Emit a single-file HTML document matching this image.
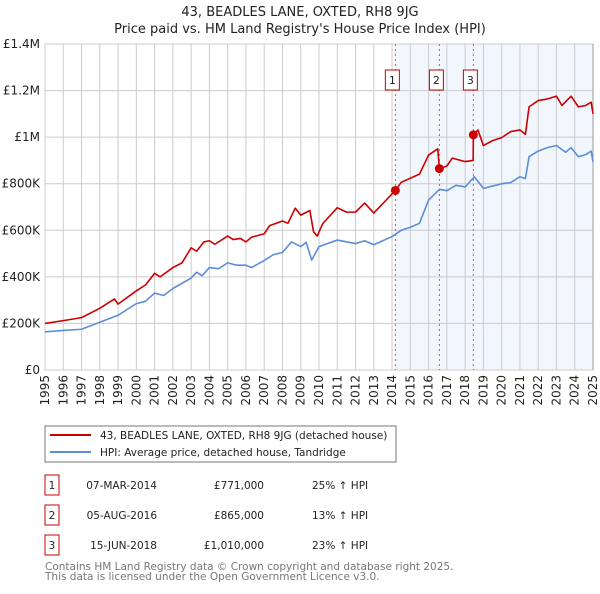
<!DOCTYPE html>
<html><head><meta charset="utf-8"><style>
body{margin:0;background:#fff;width:600px;height:590px;overflow:hidden;font-family:"DejaVu Sans","Liberation Sans",sans-serif}
svg text{font-family:"DejaVu Sans","Liberation Sans",sans-serif}
</style></head><body>
<svg id="chart" width="600" height="590" xmlns="http://www.w3.org/2000/svg">
<text x="300" y="16" text-anchor="middle" font-size="13" fill="#222">43, BEADLES LANE, OXTED, RH8 9JG</text>
<text x="300" y="33" text-anchor="middle" font-size="13" fill="#222">Price paid vs. HM Land Registry's House Price Index (HPI)</text>
<g id="plot"></g>
<rect x="45" y="426" width="351" height="36" fill="#fff" stroke="#777"/>
<line x1="50" y1="435" x2="91" y2="435" stroke="#cc0000" stroke-width="2"/>
<text x="100" y="439" font-size="10.5" fill="#222">43, BEADLES LANE, OXTED, RH8 9JG (detached house)</text>
<line x1="50" y1="452" x2="91" y2="452" stroke="#5b8ed6" stroke-width="2"/>
<text x="100" y="456" font-size="10.5" fill="#222">HPI: Average price, detached house, Tandridge</text>
<g id="table" font-size="10.5" fill="#222"></g>
<text x="45" y="570" font-size="10.5" fill="#777">Contains HM Land Registry data © Crown copyright and database right 2025.</text>
<text x="45" y="580" font-size="10.5" fill="#777">This data is licensed under the Open Government Licence v3.0.</text>
</svg>
<script>
const yTicks=[0,200000,400000,600000,800000,1000000,1200000,1400000];
const yTickLabels=["£0","£200K","£400K","£600K","£800K","£1M","£1.2M","£1.4M"];
const xYears=[1995,1996,1997,1998,1999,2000,2001,2002,2003,2004,2005,2006,2007,2008,2009,2010,2011,2012,2013,2014,2015,2016,2017,2018,2019,2020,2021,2022,2023,2024,2025];
const hpiT=[1995,1996,1997,1998,1999,2000,2000.5,2001,2001.5,2002,2003,2003.3,2003.6,2004,2004.5,2005,2005.5,2006,2006.3,2007,2007.5,2008,2008.5,2009,2009.3,2009.6,2010,2011,2012,2012.5,2013,2014,2014.5,2015,2015.5,2016,2016.6,2017,2017.5,2018,2018.5,2019,2019.5,2020,2020.5,2021,2021.3,2021.5,2022,2022.5,2023,2023.5,2023.8,2024.2,2024.6,2024.9,2025];
const hpiV=[164000,170000,175000,205000,235000,285000,295000,330000,320000,350000,395000,420000,405000,440000,435000,460000,450000,450000,440000,470000,495000,505000,550000,530000,548000,472000,530000,558000,543000,555000,538000,573000,600000,613000,630000,730000,776000,770000,793000,786000,830000,780000,790000,800000,805000,830000,822000,916000,940000,955000,964000,935000,955000,916000,925000,940000,894000];
const ppT=[1995,1996,1997,1998,1998.8,1999,2000,2000.5,2001,2001.3,2002,2002.5,2003,2003.3,2003.7,2004,2004.3,2005,2005.3,2005.7,2006,2006.3,2007,2007.3,2008,2008.3,2008.7,2009,2009.5,2009.7,2009.9,2010.2,2011,2011.5,2012,2012.5,2013,2014.18,2014.5,2015.5,2016,2016.5,2016.59,2017,2017.3,2018,2018.44,2018.45,2018.7,2019,2019.5,2020,2020.5,2021,2021.3,2021.5,2022,2022.5,2023,2023.3,2023.8,2024.2,2024.6,2024.9,2025];
const ppV=[200000,212000,225000,265000,305000,283000,340000,365000,415000,400000,440000,460000,525000,510000,550000,555000,540000,575000,560000,565000,550000,570000,585000,620000,640000,630000,695000,665000,685000,594000,575000,628000,697000,678000,678000,717000,674000,771000,806000,841000,923000,950000,865000,876000,910000,895000,900000,1010000,1031000,964000,985000,998000,1024000,1031000,1012000,1130000,1157000,1164000,1176000,1136000,1176000,1130000,1136000,1150000,1100000];
const saleT=[2014.18,2016.59,2018.45];
const saleV=[771000,865000,1010000];
const saleLabels=["1","2","3"];
const saleDates=["07-MAR-2014","05-AUG-2016","15-JUN-2018"];
const salePrices=["£771,000","£865,000","£1,010,000"];
const saleHpi=["25% ↑ HPI","13% ↑ HPI","23% ↑ HPI"];

const NS="http://www.w3.org/2000/svg";
const X0=45,X1=593,Y0=370,Y1=44;
const xs=t=>X0+(t-1995)/30*(X1-X0);
const ys=v=>Y0-v/1400000*(Y0-Y1);
const plot=document.getElementById('plot');
function mk(tag,attrs,parent){const e=document.createElementNS(NS,tag);for(const k in attrs)e.setAttribute(k,attrs[k]);(parent||plot).appendChild(e);return e;}
let sh=mk('rect',{x:xs(saleT[0]),y:Y1,width:X1-xs(saleT[0]),height:Y0-Y1,fill:'#eef3fc',opacity:0.75});


xYears.forEach(y=>{const l=mk('line',{x1:xs(y),x2:xs(y),y1:Y1,y2:Y0,stroke:'#ccc','stroke-width':1});


const t=mk('text',{transform:`translate(${xs(y)+4},375) rotate(-90)`,'text-anchor':'end','font-size':12,fill:'#222'});t.textContent=y;

});
yTicks.forEach((v,i)=>{const l=mk('line',{x1:X0,x2:X1,y1:ys(v),y2:ys(v),stroke:'#ccc','stroke-width':1});


const t=mk('text',{x:40,y:ys(v)+4,'text-anchor':'end','font-size':12,fill:'#222'});t.textContent=yTickLabels[i];

});
let ax=mk('line',{x1:X1,x2:X1,y1:Y1,y2:Y0,stroke:'#999','stroke-width':1});


saleT.forEach((t,i)=>{const x=xs(t);
const l=mk('line',{x1:x,x2:x,y1:Y1,y2:Y0,stroke:'#e05050','stroke-dasharray':'2,3','stroke-width':1});


const r=mk('rect',{x:x-10,y:70,width:14,height:20,fill:'#fff',stroke:'#cc0000'});


const tx=mk('text',{x:x-3,y:84,'text-anchor':'middle','font-size':11,fill:'#222'});tx.textContent=saleLabels[i];

});
function line(T,V,c,name){const p=mk('polyline',{points:T.map((t,i)=>xs(t)+','+ys(V[i])).join(' '),fill:'none',stroke:c,'stroke-width':1.6,'stroke-linejoin':'round'});

}
line(hpiT,hpiV,'#5b8ed6','hpi-line');
line(ppT,ppV,'#cc0000','property-price-line');
saleT.forEach((t,i)=>{const c=mk('circle',{cx:xs(t),cy:ys(saleV[i]),r:4.5,fill:'#cc0000'});

});
const tb=document.getElementById('table');
saleT.forEach((t,i)=>{const y0=475+i*30;
const r=mk('rect',{x:45,y:y0,width:14,height:20,fill:'#fff',stroke:'#cc0000'},tb);


const cells=[[52,'middle',saleLabels[i],'table-row-number'],[157,'end',saleDates[i],'table-sale-date'],[264,'end',salePrices[i],'table-sale-price'],[312,'start',saleHpi[i],'table-hpi-change']];
cells.forEach(c=>{const e=mk('text',{x:c[0],y:y0+14,'text-anchor':c[1]},tb);e.textContent=c[2];

});});
</script>
</body></html>
